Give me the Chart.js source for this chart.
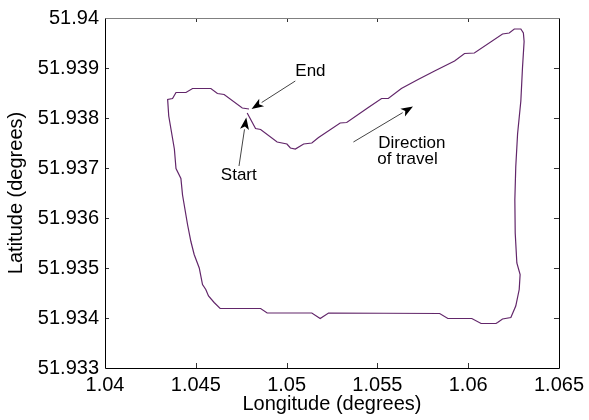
<!DOCTYPE html>
<html><head><meta charset="utf-8">
<script src="https://cdn.jsdelivr.net/npm/chart.js@4"></script>
<style>html,body{margin:0;padding:0;background:#fff}#wrap{width:589px;height:420px}</style>
</head><body><div id="wrap"><canvas id="c" width="589" height="420"></canvas></div>
<script>
const lon = [1.04783,1.04829,1.04857,1.04948,1.05002,1.05021,1.05048,1.05094,1.05139,1.05176,
1.05295,1.05331,1.05450,1.05523,1.05560,1.05632,1.05724,1.05815,1.05925,1.05980,
1.06034,1.06189,1.06226,1.06254,1.06290,1.06304,1.06308,1.06299,1.06290,1.06272,
1.06262,1.06257,1.06259,1.06268,1.06286,1.06281,1.06262,1.06235,1.06189,1.06162,
1.06153,1.06071,1.06020,1.05888,1.05843,1.05231,1.05185,1.05139,1.04893,1.04857,
1.04634,1.04601,1.04570,1.04555,1.04537,1.04519,1.04491,1.04473,1.04455,1.04427,
1.04418,1.04391,1.04382,1.04351,1.04345,1.04372,1.04391,1.04446,1.04482,1.04583,
1.04619,1.04656,1.04756,1.04793];
const lat = [51.93810,51.93779,51.93777,51.93752,51.93748,51.93740,51.93738,51.93748,51.93750,51.93761,
51.93790,51.93791,51.93821,51.93839,51.93839,51.93859,51.93877,51.93894,51.93914,51.93929,
51.93930,51.93968,51.93970,51.93978,51.93978,51.93970,51.93953,51.93900,51.93834,51.93768,
51.93702,51.93636,51.93570,51.93510,51.93487,51.93457,51.93424,51.93401,51.93398,51.93391,
51.93389,51.93389,51.93399,51.93399,51.93409,51.93410,51.93399,51.93410,51.93410,51.93419,
51.93419,51.93431,51.93444,51.93457,51.93467,51.93500,51.93527,51.93553,51.93586,51.93646,
51.93679,51.93699,51.93738,51.93804,51.93837,51.93839,51.93851,51.93851,51.93859,51.93859,
51.93849,51.93847,51.93820,51.93818];

const xTickValues = [1.04,1.045,1.05,1.055,1.06,1.065];
const xTickLabels = ['1.04','1.045','1.05','1.055','1.06','1.065'];
const yTickValues = [51.933,51.934,51.935,51.936,51.937,51.938,51.939,51.94];
const yTickLabels = ['51.933','51.934','51.935','51.936','51.937','51.938','51.939','51.94'];
const xTitle = 'Longitude (degrees)';
const yTitle = 'Latitude (degrees)';

const noteTexts = ['End','Start','Direction','of travel'];
const noteLon = [1.05048,1.04638,1.05505,1.05499];
const noteLat = [51.93884,51.93676,51.93740,51.93709];

const arrowFromLon = [1.05048,1.04738,1.05368];
const arrowFromLat = [51.93874,51.93704,51.93752];
const arrowToLon = [1.04807,1.04778,1.05696];
const arrowToLat = [51.93818,51.93801,51.93823];

const FONT = "'Liberation Sans', Arial, Helvetica, sans-serif";

const points = lon.map((v,i)=>({x:v,y:lat[i]}));

const framePlugin = {
  id:'frame',
  afterDatasetsDraw(chart){
    const {ctx, chartArea:a, scales:{x, y}} = chart;
    ctx.save();
    ctx.strokeStyle = '#333';
    ctx.lineWidth = 1;
    ctx.beginPath();
    xTickValues.forEach((v,i)=>{
      if (i===0 || i===xTickValues.length-1) return;
      const px = Math.round(x.getPixelForValue(v))+0.5;
      ctx.moveTo(px, a.bottom); ctx.lineTo(px, a.bottom-5);
      ctx.moveTo(px, a.top); ctx.lineTo(px, a.top+4);
    });
    yTickValues.forEach((v,i)=>{
      if (i===0 || i===yTickValues.length-1) return;
      const py = Math.round(y.getPixelForValue(v))+0.5;
      ctx.moveTo(a.left, py); ctx.lineTo(a.left+4, py);
      ctx.moveTo(a.right, py); ctx.lineTo(a.right-5, py);
    });
    ctx.stroke();
    const L = Math.round(a.left)+0.5, R = Math.round(a.right)+0.5, T = Math.round(a.top)+0.5, B = Math.round(a.bottom)+0.5;
    ctx.strokeStyle = '#808080';
    ctx.beginPath(); ctx.moveTo(L,T); ctx.lineTo(R,T); ctx.stroke();
    ctx.strokeStyle = '#000';
    ctx.beginPath(); ctx.moveTo(R,T); ctx.lineTo(R,B); ctx.lineTo(L,B); ctx.lineTo(L,T); ctx.stroke();

    for (let i=0;i<arrowFromLon.length;i++){
      const x0 = x.getPixelForValue(arrowFromLon[i]), y0 = y.getPixelForValue(arrowFromLat[i]);
      const x1 = x.getPixelForValue(arrowToLon[i]), y1 = y.getPixelForValue(arrowToLat[i]);
      const ang = Math.atan2(y1-y0, x1-x0);
      const hl = 12, hw = 4.5;
      const bx = x1 - hl*Math.cos(ang), by = y1 - hl*Math.sin(ang);
      ctx.strokeStyle = '#444'; ctx.lineWidth = 1;
      ctx.beginPath(); ctx.moveTo(x0,y0); ctx.lineTo(bx,by); ctx.stroke();
      ctx.fillStyle = '#000';
      ctx.beginPath();
      ctx.moveTo(x1,y1);
      ctx.lineTo(bx + hw*Math.sin(ang), by - hw*Math.cos(ang));
      ctx.lineTo(x1 - (hl-3)*Math.cos(ang), y1 - (hl-3)*Math.sin(ang));
      ctx.lineTo(bx - hw*Math.sin(ang), by + hw*Math.cos(ang));
      ctx.closePath(); ctx.fill();
    }
    ctx.fillStyle = '#000';
    ctx.font = '17px ' + FONT;
    ctx.textAlign = 'left'; ctx.textBaseline = 'alphabetic';
    noteTexts.forEach((t,i)=>{
      ctx.fillText(t, x.getPixelForValue(noteLon[i]), y.getPixelForValue(noteLat[i]));
    });
    ctx.restore();
  }
};

new Chart(document.getElementById('c'), {
  type:'scatter',
  data:{datasets:[{
    data: points,
    showLine:true,
    borderColor:'#62266a',
    borderWidth:1.2,
    pointRadius:0,
    pointHoverRadius:0,
    tension:0,
    fill:false
  }]},
  options:{
    responsive:false,
    animation:false,
    devicePixelRatio:1,
    events:[],
    layout:{padding:{left:0,right:27,top:15,bottom:0}},
    plugins:{legend:{display:false},tooltip:{enabled:false}},
    scales:{
      x:{
        type:'linear', min:1.04, max:1.065,
        afterBuildTicks(s){ s.ticks = xTickValues.map(v=>({value:v})); },
        afterFit(s){ s.height = 52; },
        grid:{display:false, drawTicks:false},
        border:{display:false},
        ticks:{padding:5, color:'#000', font:{family:FONT,size:20}, maxRotation:0, autoSkip:false,
          callback:(v,i)=>xTickLabels[i]},
        title:{display:true, text:xTitle, color:'#000', font:{family:FONT,size:20}, padding:{top:0,bottom:4}}
      },
      y:{
        type:'linear', min:51.933, max:51.94,
        afterBuildTicks(s){ s.ticks = yTickValues.map(v=>({value:v})); },
        afterFit(s){ s.width = 105; },
        grid:{display:false, drawTicks:false},
        border:{display:false},
        ticks:{padding:6, color:'#000', font:{family:FONT,size:20}, autoSkip:false,
          callback:(v,i)=>yTickLabels[i]},
        title:{display:true, text:yTitle, color:'#000', font:{family:FONT,size:20}, padding:{top:4,bottom:0}}
      }
    }
  },
  plugins:[framePlugin]
});
</script>
</body></html>
